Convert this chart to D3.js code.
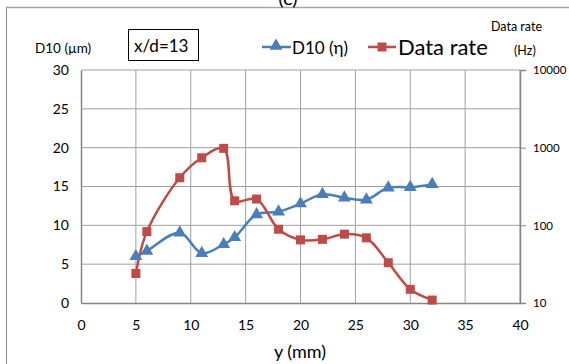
<!DOCTYPE html>
<html><head><meta charset="utf-8">
<script src="https://cdn.jsdelivr.net/npm/d3@7"></script>
<style>body{margin:0;background:#fff}svg{display:block}text{font-family:Lato,"Open Sans",sans-serif;fill:#000}</style>
</head><body>
<script>
const yPos = [5,6,9,11,13,14,16,18,20,22,24,26,28,30,32];
const d10 = [6.0,6.7,9.05,6.4,7.55,8.45,11.4,11.75,12.8,14.0,13.55,13.3,14.85,14.9,15.3];
const dataRate = [24,83,410,740,980,207,218,89,65,66,77,69,33,15,10.9];
const xTicks = [0,5,10,15,20,25,30,35,40];
const leftTicks = [0,5,10,15,20,25,30];
const rightTicks = [10,100,1000,10000];

const W=569,H=364;
const svg=d3.select("body").append("svg").attr("width",W).attr("height",H);
const L=81,R=520,T=70,B=303;
const x=d3.scaleLinear().domain([0,40]).range([L,R]);
const yl=d3.scaleLinear().domain([0,30]).range([B,T]);
const yr=d3.scaleLog().domain([10,10000]).range([B,T]);

// frame
svg.append("line").attr("x1",6).attr("x2",W).attr("y1",7.5).attr("y2",7.5).attr("stroke","#a6a6a6").attr("stroke-width",1.5);
svg.append("line").attr("x1",6.5).attr("x2",6.5).attr("y1",7).attr("y2",H).attr("stroke","#8c8c8c").attr("stroke-width",1);
svg.append("text").attr("x",288).attr("y",5).attr("text-anchor","middle").style("font-size","20px").text("(c)");

// grid
const g=svg.append("g");
g.selectAll(".vg").data(xTicks.slice(1)).join("line").attr("x1",d=>x(d)).attr("x2",d=>x(d)).attr("y1",T).attr("y2",B).attr("stroke","#a0a0a0").attr("stroke-width",1);
g.selectAll(".hg").data(leftTicks.slice(1)).join("line").attr("x1",L).attr("x2",R).attr("y1",d=>yl(d)).attr("y2",d=>yl(d)).attr("stroke","#a0a0a0").attr("stroke-width",1);

// axes
const ax=svg.append("g").attr("transform",`translate(0,${B})`).call(d3.axisBottom(x).tickValues(xTicks).tickSize(0).tickPadding(17));
ax.select(".domain").attr("stroke","#868686").attr("stroke-width",1.5);
ax.selectAll("text").style("font-size","14px").style("font-family","Lato,sans-serif");
const al=svg.append("g").attr("transform",`translate(${L},0)`).call(d3.axisLeft(yl).tickValues(leftTicks).tickSize(0).tickPadding(12));
al.select(".domain").attr("stroke","#868686").attr("stroke-width",1.5);
al.selectAll("text").style("font-size","14px").style("font-family","Lato,sans-serif");
const ar=svg.append("g").attr("transform",`translate(${R},0)`).call(d3.axisRight(yr).tickValues(rightTicks).tickFormat(d3.format("d")).tickSize(6).tickPadding(7));
ar.select(".domain").attr("stroke","#868686").attr("stroke-width",1.5);
ar.selectAll("line").attr("stroke","#868686");
ar.selectAll("text").style("font-size","11.5px").style("font-family","Lato,sans-serif");

// titles
svg.append("text").attr("x",300).attr("y",358).attr("text-anchor","middle").style("font-size","18px").text("y (mm)");
svg.append("text").attr("x",35).attr("y",53).style("font-size","13.5px").text("D10 (µm)");
svg.append("text").attr("x",491).attr("y",31).style("font-size","12.5px").text("Data rate");
svg.append("text").attr("x",514).attr("y",55).style("font-size","12.5px").text("(Hz)");

// x/d box
svg.append("rect").attr("x",128.5).attr("y",29.5).attr("width",70).attr("height",31).attr("fill","#fff").attr("stroke","#000").attr("stroke-width",1);
svg.append("text").attr("x",134).attr("y",52).style("font-size","17px").text("x/d=13");

const blue="#4a7ebb", red="#be4b48";
// lines
const lineB=d3.line().x((d,i)=>x(yPos[i])).y(d=>yl(d)).curve(d3.curveCatmullRom.alpha(0.5));
const lineR=d3.line().x((d,i)=>x(yPos[i])).y(d=>yr(d)).curve(d3.curveCatmullRom.alpha(0.5));
svg.append("path").attr("d",lineB(d10)).attr("fill","none").attr("stroke",blue).attr("stroke-width",2.5);
svg.append("path").attr("d",lineR(dataRate)).attr("fill","none").attr("stroke",red).attr("stroke-width",2.5);
const tri=d3.symbol().type(d3.symbolTriangle).size(72);
svg.selectAll(".tb").data(d10).join("path").attr("d",tri).attr("transform",(d,i)=>`translate(${x(yPos[i])},${yl(d)})`).attr("fill",blue);
svg.selectAll(".sr").data(dataRate).join("rect").attr("x",(d,i)=>x(yPos[i])-4.5).attr("y",d=>yr(d)-4.5).attr("width",9).attr("height",9).attr("fill",red);

// legend
svg.append("line").attr("x1",262).attr("x2",291).attr("y1",47).attr("y2",47).attr("stroke",blue).attr("stroke-width",2.5);
svg.append("path").attr("d",tri).attr("transform","translate(276,46)").attr("fill",blue);
svg.append("text").attr("x",292).attr("y",54).style("font-size","17px").text("D10 (η)");
svg.append("line").attr("x1",368).attr("x2",396).attr("y1",47).attr("y2",47).attr("stroke",red).attr("stroke-width",2.5);
svg.append("rect").attr("x",377.5).attr("y",42.5).attr("width",9).attr("height",9).attr("fill",red);
svg.append("text").attr("x",398).attr("y",55).style("font-size","22px").text("Data rate");
</script>
</body></html>
